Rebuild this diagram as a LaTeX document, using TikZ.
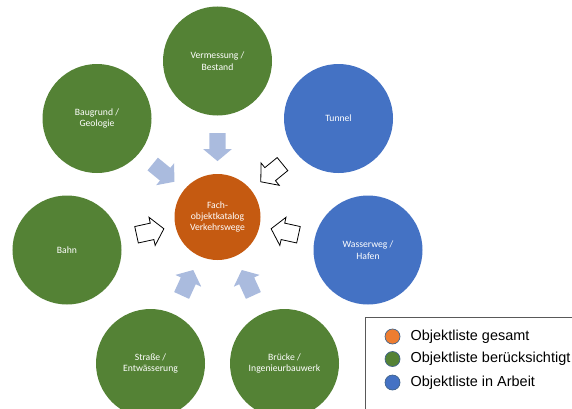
\documentclass[tikz,border=0pt]{standalone}
\usepackage{fontspec}
\setmainfont{Carlito}
\newfontfamily\legendfont{Liberation Sans}
\usetikzlibrary{shapes.arrows,positioning}
\definecolor{katorange}{RGB}{197,90,17}
\definecolor{doneGreen}{RGB}{84,130,53}
\definecolor{workblue}{RGB}{68,114,196}
\definecolor{legorange}{RGB}{237,125,49}
\definecolor{dotborder}{RGB}{65,100,140}
\definecolor{arrowfill}{RGB}{170,187,222}
\definecolor{boxgray}{RGB}{89,89,89}
\tikzset{
  kreis/.style={circle, minimum size=109bp, inner sep=0pt, align=center,
    text=white, font=\fontsize{9.7}{11.5}\selectfont},
  katkreis/.style={kreis, fill=katorange, minimum size=86bp},
  fillarrow/.style={single arrow, fill=arrowfill, draw=none, minimum height=28bp,
    single arrow head extend=6bp, single arrow tip angle=100, inner xsep=0pt,
    inner ysep=8bp, pos=0.53, sloped, allow upside down},
  openarrow/.style={fillarrow, fill=white, draw=black, line width=0.8pt},
  legdot/.style={circle, draw=dotborder, line width=0.7pt, minimum size=15bp, inner sep=0pt},
  legtext/.style={inner sep=0pt, font=\legendfont\fontsize{14.5}{17}\selectfont},
  legbox/.style={draw=boxgray, line width=0.8pt}
}
\begin{document}
\begin{tikzpicture}[x=1bp,y=1bp]
\clip (0,0) rectangle (572,408);

% Centre and surrounding catalogues
\node[katkreis] (katalog) at (217.5,191) {Fach-\\objektkatalog\\Verkehrswege};
\node[kreis, fill=doneGreen] (verm) at (217.5,347) {Vermessung /\\Bestand};
\node[kreis, fill=doneGreen] (baugrund) at (97,289.5) {Baugrund /\\Geologie};
\node[kreis, fill=workblue] (tunnel) at (338.5,289.5) {Tunnel};
\node[kreis, fill=doneGreen] (bahn) at (67,158) {Bahn};
\node[kreis, fill=workblue] (wasser) at (368,158) {Wasserweg /\\Hafen};
\node[kreis, fill=doneGreen] (strasse) at (150.5,44.5) {Straße /\\Entwässerung};
\node[kreis, fill=doneGreen] (bruecke) at (284.5,44.5) {Brücke /\\Ingenieurbauwerk};

% Block arrows towards the centre
\path (verm.center) -- node[fillarrow] (pverm) {} (katalog.center);
\path (baugrund.center) -- node[fillarrow] (pbaugrund) {} (katalog.center);
\path (strasse.center) -- node[fillarrow] (pstrasse) {} (katalog.center);
\path (bruecke.center) -- node[fillarrow] (pbruecke) {} (katalog.center);
\path (tunnel.center) -- node[openarrow] (ptunnel) {} (katalog.center);
\path (bahn.center) -- node[openarrow] (pbahn) {} (katalog.center);
\path (wasser.center) -- node[openarrow] (pwasser) {} (katalog.center);

% Legend
\draw[legbox] (365,91) rectangle (590,-10);
\node[legdot, fill=legorange] (dot1) at (392.5,71.5) {};
\node[legdot, fill=doneGreen] (dot2) at (392.5,49) {};
\node[legdot, fill=workblue] (dot3) at (392.5,25.5) {};
\node[legtext, right=10bp of dot1] (leg1) {Objektliste gesamt};
\node[legtext, right=10bp of dot2] (leg2) {Objektliste berücksichtigt};
\node[legtext, right=10bp of dot3] (leg3) {Objektliste in Arbeit};

\end{tikzpicture}
\end{document}
